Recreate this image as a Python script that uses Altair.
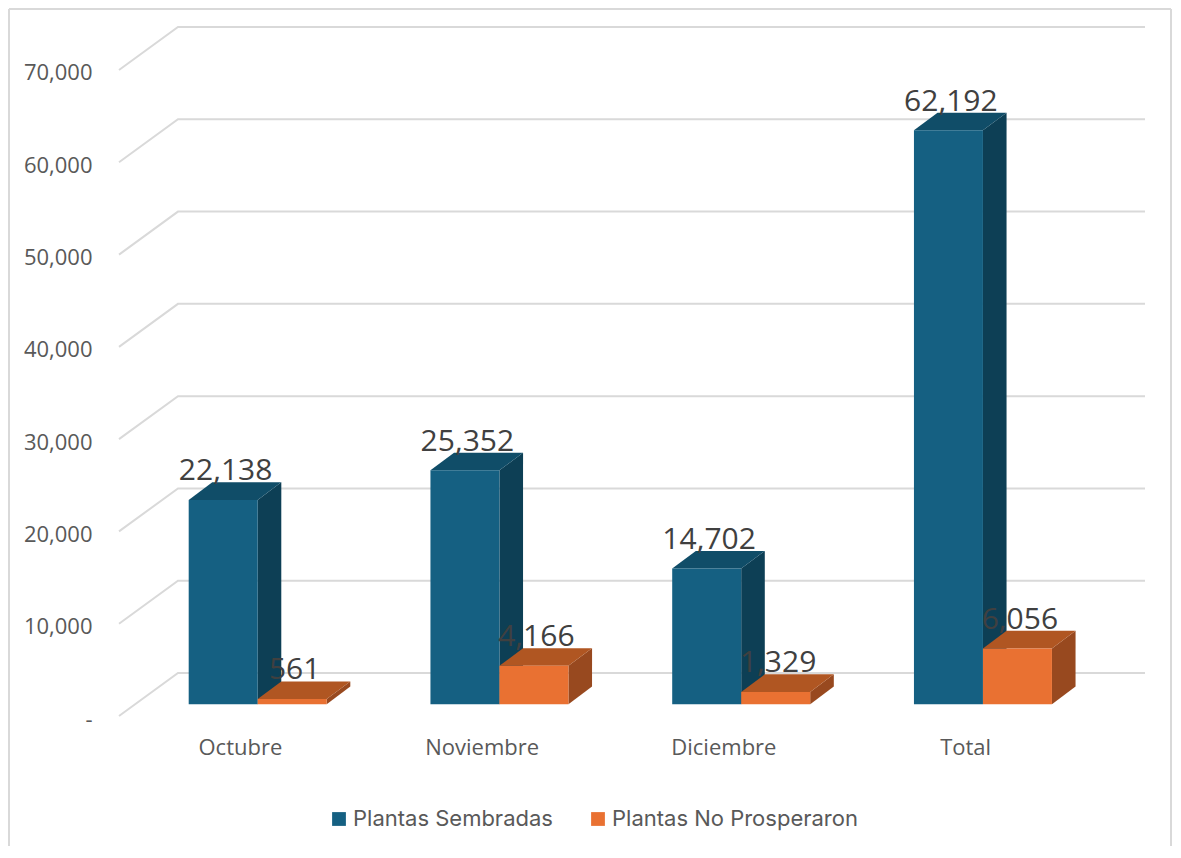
import altair as alt
import pandas as pd

months = ["Octubre", "Noviembre", "Diciembre", "Total"]
sembradas = [22138, 25352, 14702, 62192]
no_prosperaron = [561, 4166, 1329, 6056]
series_names = ["Plantas Sembradas", "Plantas No Prosperaron"]
ticks = [0, 10000, 20000, 30000, 40000, 50000, 60000, 70000]
blue = {"front": "#156082", "side": "#0d3f55", "top": "#104d68"}
orange = {"front": "#e97132", "side": "#98491f", "top": "#b05622"}

# oblique projection, in data units
WALL_X, WALL_Y = 0.244, 4659
YMAX = 70000 + WALL_Y
XMAX = 4 + WALL_X
BASE = 1268
DEPTH_X, DEPTH_Y = 0.0976, 1918
BAR_W = 0.2854
BAR_START = 0.2883

front, sides, tops, labels = [], [], [], []
for s, (name, vals) in enumerate(zip(series_names, [sembradas, no_prosperaron])):
    for i, v in enumerate(vals):
        x0 = i + BAR_START + s * BAR_W
        x1 = x0 + BAR_W
        top = BASE + v
        key = f"{s}-{i}"
        front.append(dict(series=name, x=x0, x2=x1, y=BASE, y2=top))
        sides += [
            dict(s=s, key=key, x=x1, lo=BASE, hi=top),
            dict(s=s, key=key, x=x1 + DEPTH_X, lo=BASE + DEPTH_Y, hi=top + DEPTH_Y),
        ]
        tops += [
            dict(s=s, key=key, x=x0, lo=top, hi=top),
            dict(s=s, key=key, x=x0 + DEPTH_X, lo=top, hi=top + DEPTH_Y),
            dict(s=s, key=key, x=x1, lo=top, hi=top + DEPTH_Y),
            dict(s=s, key=key, x=x1 + DEPTH_X, lo=top + DEPTH_Y, hi=top + DEPTH_Y),
        ]
        labels.append(dict(x=(x0 + x1) / 2 + 0.01, y=top + DEPTH_Y, v=v))

grid = []
for t in ticks:
    grid += [
        dict(k=t, x=0, y=t),
        dict(k=t, x=WALL_X, y=t + WALL_Y),
        dict(k=t, x=XMAX, y=t + WALL_Y),
    ]

xs = alt.Scale(domain=[0, XMAX], nice=False, zero=False)
ys = alt.Scale(domain=[0, YMAX], nice=False, zero=False)
AX = "#595959"
FONT = "Open Sans"

x_axis = alt.Axis(values=[0.5, 1.5, 2.5, 3.5], grid=False, domain=False, ticks=False,
                  labelExpr="['Octubre','Noviembre','Diciembre','Total'][floor(datum.value)]",
                  labelFont=FONT, labelFontSize=22, labelColor=AX, labelPadding=21)
y_axis = alt.Axis(values=ticks, grid=False, domain=False, ticks=False,
                  labelExpr="datum.value === 0 ? '-' : format(datum.value, ',')",
                  labelFont=FONT, labelFontSize=22, labelColor=AX, labelPadding=27, labelOffset=3)


def X(f="x:Q"):
    return alt.X(f, scale=xs, title=None, axis=x_axis)


def Y(f, **kw):
    return alt.Y(f, scale=ys, title=None, axis=y_axis, **kw)


grid_layer = alt.Chart(pd.DataFrame(grid)).mark_line(color="#d9d9d9", strokeWidth=2).encode(
    x=X(), y=Y("y:Q"), detail="k:N")


def faces(rows, which):
    layers = []
    for s, pal in enumerate([blue, orange]):
        df = pd.DataFrame([r for r in rows if r["s"] == s])
        layers.append(
            alt.Chart(df).mark_area(color=pal[which], interpolate="linear").encode(
                x=X(),
                y=Y("lo:Q", stack=None),
                y2="hi:Q",
                detail="key:N",
            )
        )
    return layers


side_l = faces(sides, "side")
top_l = faces(tops, "top")

front_layer = alt.Chart(pd.DataFrame(front)).mark_rect().encode(
    x=X(),
    x2="x2:Q",
    y=Y("y:Q"),
    y2="y2:Q",
    color=alt.Color(
        "series:N",
        scale=alt.Scale(domain=series_names, range=[blue["front"], orange["front"]]),
        sort=series_names,
        legend=alt.Legend(
            title=None, orient="none", direction="horizontal", legendX=209, legendY=781,
            symbolType="square", symbolSize=190, symbolStrokeWidth=0, symbolOpacity=1,
            labelFont="Inter", labelFontSize=22, labelColor=AX, labelOffset=3, labelLimit=400,
            columnPadding=34, padding=0,
        ),
    ),
)

label_layer = alt.Chart(pd.DataFrame(labels)).mark_text(
    font=FONT, fontSize=30, color="#404040", baseline="alphabetic", dy=-2
).encode(
    x=X(),
    y=Y("y:Q"),
    text=alt.Text("v:Q", format=","),
)

frame_df = pd.DataFrame({"x": [0]})
frame = [
    alt.Chart(frame_df).mark_rule(color="#d9d9d9", strokeWidth=2).encode(
        x=alt.value(-110), x2=alt.value(-110), y=alt.value(-18), y2=alt.value(820)),
    alt.Chart(frame_df).mark_rule(color="#d9d9d9", strokeWidth=2).encode(
        x=alt.value(1052), x2=alt.value(1052), y=alt.value(-18), y2=alt.value(820)),
    alt.Chart(frame_df).mark_rule(color="#d9d9d9", strokeWidth=2).encode(
        x=alt.value(-110), x2=alt.value(1052), y=alt.value(-18)),
]

chart = alt.layer(
    *frame, grid_layer, side_l[0], top_l[0], side_l[1], top_l[1], front_layer, label_layer
).properties(
    width=1026, height=689,
    padding={"left": 111, "top": 19, "right": 28, "bottom": 130},
    autosize=alt.AutoSizeParams(type="none"),
    background="white",
).configure_view(stroke=None)

chart.save("out.html", embed_options={"renderer": "svg", "actions": False})
